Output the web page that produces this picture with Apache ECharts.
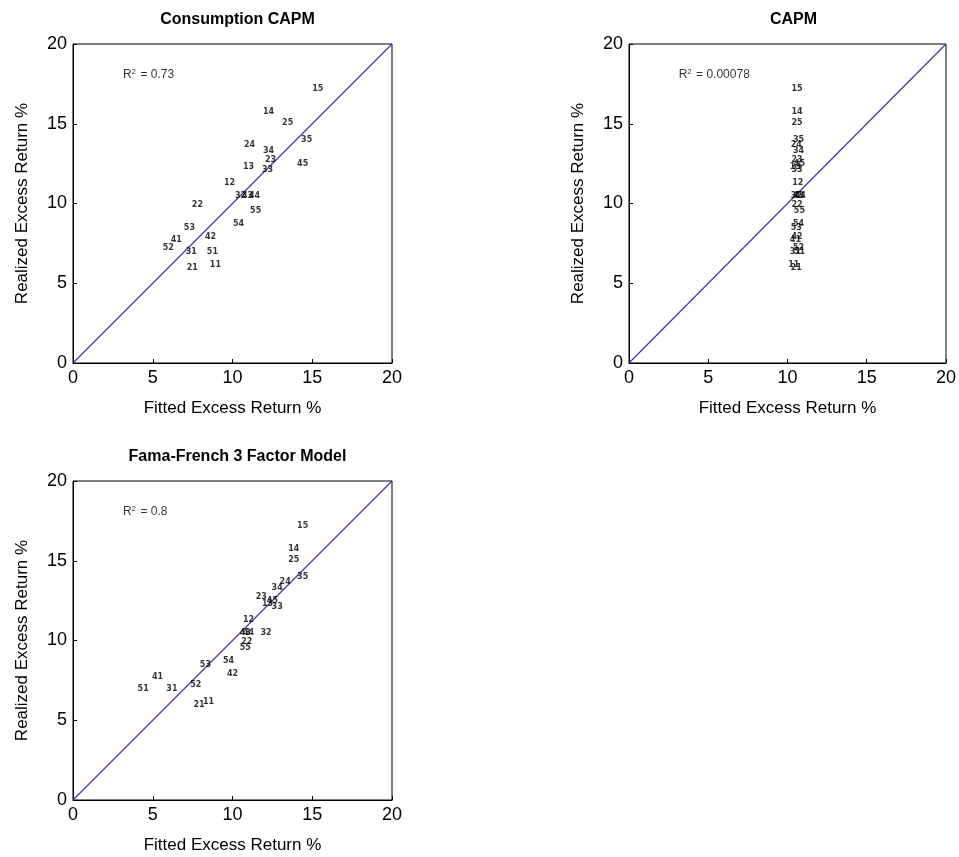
<!DOCTYPE html>
<html lang="en">
<head>
    <meta charset="UTF-8">
    <title>Fitted vs Realized Excess Return</title>
    <script src="https://cdn.jsdelivr.net/npm/echarts@6/dist/echarts.min.js"></script>
    <style>
        body { margin: 0; padding: 0; background: #fff; }
        #chart { width: 959px; height: 857px; }
    </style>
</head>
<body>
    <div id="chart"></div>
    <script>
        // portfolio labels (size/book-to-market)
        const portfolios = ['15', '14', '25', '35', '24', '34', '23', '13', '45', '33',
                            '12', '32', '43', '44', '55', '22', '54', '53', '41', '52',
                            '42', '31', '51', '21', '11'];
        // realized excess returns, same in every panel
        const realized = [17.19, 15.75, 15.06, 14.0, 13.69, 13.31, 12.75, 12.31, 12.5, 12.13,
                          11.31, 10.5, 10.5, 10.5, 9.56, 9.88, 8.75, 8.5, 7.69, 7.19,
                          7.88, 6.94, 6.94, 5.94, 6.12];
        // fitted excess returns per model
        const fittedCCAPM = [15.35, 12.26, 13.46, 14.65, 11.07, 12.26, 12.39, 11.01, 14.4, 12.2,
                             9.81, 10.5, 10.94, 11.38, 11.45, 7.8, 10.38, 7.3, 6.48, 5.97,
                             8.62, 7.42, 8.74, 7.48, 8.93];
        const fittedCAPM = [10.6, 10.6, 10.6, 10.7, 10.55, 10.7, 10.6, 10.5, 10.75, 10.6,
                            10.65, 10.55, 10.7, 10.8, 10.75, 10.6, 10.7, 10.55, 10.5, 10.7,
                            10.6, 10.5, 10.75, 10.55, 10.4];
        const fittedFF3 = [14.4, 13.84, 13.84, 14.4, 13.3, 12.8, 11.8, 12.2, 12.5, 12.8,
                           11.0, 12.1, 10.8, 11.0, 10.8, 10.9, 9.75, 8.3, 5.3, 7.7,
                           10.0, 6.2, 4.4, 7.9, 8.5];
        const titles = ['Consumption CAPM', 'CAPM', 'Fama-French 3 Factor Model'];
        const rSquared = ['0.73', '0.00078', '0.8'];
        const fittedSets = [fittedCCAPM, fittedCAPM, fittedFF3];
        const axisTicks = [0, 5, 10, 15, 20];

        const font = 'Liberation Sans, Arial, sans-serif';
        const lineBlue = '#3030b0';
        const panels = [
            { left: 73, top: 44 },
            { left: 629, top: 44 },
            { left: 73, top: 481 }
        ];
        const size = 319;

        const grids = [], xAxes = [], yAxes = [], series = [], titleOpts = [];
        panels.forEach((p, i) => {
            grids.push({ left: p.left, top: p.top, width: size, height: size,
                         show: true, borderColor: '#000', borderWidth: 1, backgroundColor: '#fff' });
            titleOpts.push({
                text: titles[i], left: p.left + size / 2, top: p.top - 37, textAlign: 'center',
                textStyle: { fontFamily: font, fontSize: 16, fontWeight: 'bold', color: '#000' }
            });
            const axisCommon = {
                gridIndex: i, type: 'value', min: 0, max: 20, interval: 5,
                nameLocation: 'middle',
                nameTextStyle: { fontFamily: font, fontSize: 17, color: '#000' },
                axisLine: { show: true, lineStyle: { color: '#000', width: 1 } },
                axisTick: { show: true, inside: true, length: 4, lineStyle: { color: '#000' } },
                axisLabel: { fontFamily: font, fontSize: 18, color: '#000', margin: 6 },
                splitLine: { show: false }
            };
            xAxes.push(Object.assign({}, axisCommon, { name: 'Fitted Excess Return %', nameGap: 37 }));
            yAxes.push(Object.assign({}, axisCommon, { name: 'Realized Excess Return %', nameGap: 42 }));

            series.push({
                type: 'line', xAxisIndex: i, yAxisIndex: i, symbol: 'none', silent: true, z: 3,
                color: lineBlue,
                itemStyle: { color: lineBlue },
                lineStyle: { color: lineBlue, width: 1.1 },
                data: [[axisTicks[0], axisTicks[0]], [axisTicks[4], axisTicks[4]]]
            });
            series.push({
                type: 'scatter', xAxisIndex: i, yAxisIndex: i, symbolSize: 1, z: 4,
                itemStyle: { color: 'rgba(0,0,0,0)' },
                label: {
                    show: true, position: 'inside', formatter: p => p.data[2],
                    fontFamily: 'DejaVu Sans, sans-serif', fontSize: 8, fontWeight: 'bold', color: '#000'
                },
                data: fittedSets[i].map((x, k) => [x, realized[k], portfolios[k]])
            });
            series.push({
                type: 'scatter', xAxisIndex: i, yAxisIndex: i, symbolSize: 1, z: 4,
                itemStyle: { color: 'rgba(0,0,0,0)' },
                label: {
                    show: true, position: 'right', distance: 0,
                    formatter: '{a|R}{s|2}{a| = ' + rSquared[i] + '}',
                    rich: {
                        a: { fontFamily: font, fontSize: 12, color: '#000' },
                        s: { fontFamily: font, fontSize: 8, color: '#000', verticalAlign: 'top', padding: [0, 1, 6, 0] }
                    }
                },
                data: [[3.1, 18.1]]
            });
        });

        const chart = echarts.init(document.getElementById('chart'));
        chart.setOption({
            animation: false,
            title: titleOpts,
            grid: grids,
            xAxis: xAxes,
            yAxis: yAxes,
            series: series
        });
    </script>
</body>
</html>
